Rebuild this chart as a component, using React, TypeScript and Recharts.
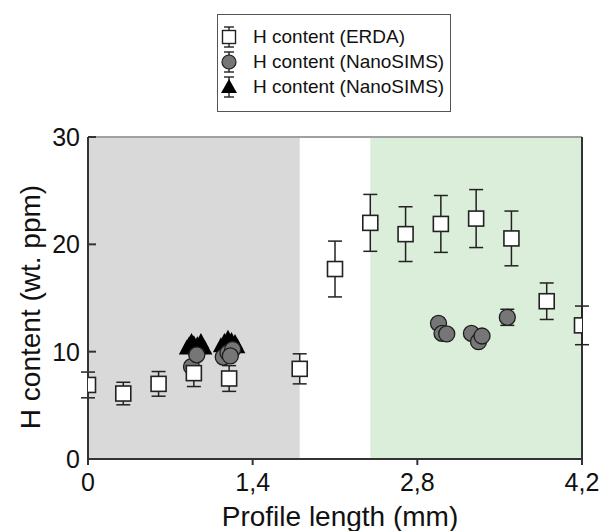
import React from "react";
import {
  ComposedChart, Scatter, XAxis, YAxis, ErrorBar, ReferenceArea, ReferenceLine, Legend,
} from "recharts";

// ERDA profile (open squares with error bars)
const erdaX = [0, 0.3, 0.6, 0.9, 1.2, 1.8, 2.1, 2.4, 2.7, 3.0, 3.3, 3.6, 3.9, 4.2];
const erdaY = [6.9, 6.1, 7.0, 8.0, 7.5, 8.4, 17.7, 22.0, 20.95, 21.9, 22.4, 20.55, 14.7, 12.45];
const erdaErr = [1.2, 1.05, 1.15, 1.25, 1.2, 1.4, 2.6, 2.65, 2.55, 2.65, 2.7, 2.55, 1.7, 1.8];

// NanoSIMS, grey circles
const circX = [0.88, 0.925, 1.15, 1.19, 1.23, 1.21, 2.98, 3.01, 3.05, 3.26, 3.32, 3.35, 3.565];
const circY = [8.6, 9.7, 9.5, 9.9, 10.2, 9.6, 12.64, 11.7, 11.65, 11.7, 10.93, 11.46, 13.2];
const circErr = [0, 0, 0, 0, 0, 0, 0, 0, 0, 0, 0, 0, 0.75];

// NanoSIMS, black triangles
const triX = [0.84, 0.86, 0.88, 0.9, 0.93, 0.96, 0.99, 0.92, 1.13, 1.16, 1.19, 1.22, 1.25, 1.27, 1.2];
const triY = [10.3, 10.6, 10.9, 10.7, 10.6, 10.9, 10.3, 10.2, 10.5, 10.9, 11.2, 11.0, 10.8, 10.4, 10.5];

const xTicks = [0, 1.4, 2.8, 4.2];
const yTicks = [0, 10, 20, 30];
const legendLabels = ["H content (ERDA)", "H content (NanoSIMS)", "H content (NanoSIMS)"];

const erda = erdaX.map((x, i) => ({ x, y: erdaY[i], err: erdaErr[i] }));
const circles = circX.map((x, i) => ({ x, y: circY[i], err: circErr[i] }));
const triangles = triX.map((x, i) => ({ x, y: triY[i] }));

const FONT = "'Liberation Sans', Arial, sans-serif";
const INK = "#222222";

// allowDataOverflow on the axes makes recharts clip these to the plot box
const Square = (p: any) => (
  <rect x={p.cx - 7.5} y={p.cy - 7.5} width={15} height={15} fill="#ffffff" stroke={INK} strokeWidth={1.6} />
);
const Dot = (p: any) => (
  <circle cx={p.cx} cy={p.cy} r={8} fill="#767676" stroke="#1e1e1e" strokeWidth={1.3} />
);
const Tri = (p: any) => (
  <polygon points={`${p.cx},${p.cy - 9} ${p.cx - 8},${p.cy + 6} ${p.cx + 8},${p.cy + 6}`} fill="#000000" />
);

function LegendBox() {
  const icon = (k: number) => {
    const bar = (
      <g stroke={INK} strokeWidth={1.4}>
        <line x1={11} y1={1} x2={11} y2={21} />
        <line x1={6} y1={1} x2={16} y2={1} />
        <line x1={6} y1={21} x2={16} y2={21} />
      </g>
    );
    return (
      <svg width={22} height={22} style={{ display: "block" }}>
        {bar}
        {k === 0 && <rect x={4.5} y={4.5} width={13} height={13} fill="#fff" stroke={INK} strokeWidth={1.4} />}
        {k === 1 && <circle cx={11} cy={11} r={7} fill="#767676" stroke="#1e1e1e" strokeWidth={1.2} />}
        {k === 2 && <polygon points="11,3 3,17 19,17" fill="#000" />}
      </svg>
    );
  };
  return (
    <div
      style={{
        width: 234, height: 98, boxSizing: "border-box", border: "1.5px solid #555",
        padding: "9px 0 0 0", fontFamily: FONT, fontSize: 19, color: "#111",
      }}
    >
      {legendLabels.map((t, i) => (
        <div key={i} style={{ display: "flex", alignItems: "center", height: 25 }}>
          <div style={{ width: 22, marginLeft: 0, marginRight: 13 }}>{icon(i)}</div>
          <span>{t}</span>
        </div>
      ))}
    </div>
  );
}

export default function App() {
  const tickStyle = { fill: "#111", fontSize: 25, fontFamily: FONT };
  return (
    <div style={{ position: "absolute", left: 0, top: 0 }}>
      <ComposedChart width={601} height={531} margin={{ top: 137, right: 19, bottom: 12, left: 28 }}>
        <ReferenceArea x1={0} x2={1.8} y1={0} y2={30} fill="#d9d9d9" fillOpacity={1} stroke="none" ifOverflow="visible" />
        <ReferenceArea x1={2.4} x2={4.2} y1={0} y2={30} fill="#dbeeda" fillOpacity={1} stroke="none" ifOverflow="visible" />
        <XAxis
          type="number"
          dataKey="x"
          domain={[0, 4.2]}
          ticks={xTicks}
          allowDataOverflow
          height={60}
          tick={tickStyle}
          tickFormatter={(v: number) => String(v).replace(".", ",")}
          tickSize={6}
          tickMargin={8}
          axisLine={{ stroke: "#333", strokeWidth: 2 }}
          tickLine={{ stroke: "#333", strokeWidth: 2 }}
          label={{
            content: () => (
              <text x={340} y={526} textAnchor="middle" fontFamily={FONT} fontSize={28} fill="#111">
                Profile length (mm)
              </text>
            ),
          }}
        />
        <YAxis
          type="number"
          dataKey="y"
          domain={[0, 30]}
          ticks={yTicks}
          allowDataOverflow
          width={60}
          tick={tickStyle}
          tickSize={-8}
          tickMargin={16}
          axisLine={{ stroke: "#333", strokeWidth: 2 }}
          tickLine={{ stroke: "#333", strokeWidth: 2 }}
          label={{
            content: () => (
              <text
                x={40} y={307} textAnchor="middle" fontFamily={FONT} fontSize={28} fill="#111"
                transform="rotate(-90 40 307)"
              >
                H content (wt. ppm)
              </text>
            ),
          }}
        />
        <ReferenceLine y={30} stroke="#a0a0a0" strokeWidth={2} ifOverflow="visible" />
        <ReferenceLine x={4.2} stroke="#333" strokeWidth={2} ifOverflow="visible" />
        <Scatter name="tri" data={triangles} shape={Tri} isAnimationActive={false} />
        <Scatter name="circ" data={circles} shape={Dot} isAnimationActive={false}>
          <ErrorBar dataKey="err" direction="y" width={7} stroke={INK} strokeWidth={1.5} />
        </Scatter>
        <Scatter name="erda" data={erda} shape={Square} isAnimationActive={false}>
          <ErrorBar dataKey="err" direction="y" width={7} stroke={INK} strokeWidth={1.5} />
        </Scatter>
        <Legend
          layout="vertical"
          align="center"
          verticalAlign="middle"
          content={() => <LegendBox />}
          wrapperStyle={{ position: "absolute", left: 217, top: 14, width: 234, height: 98 }}
        />
      </ComposedChart>
    </div>
  );
}
